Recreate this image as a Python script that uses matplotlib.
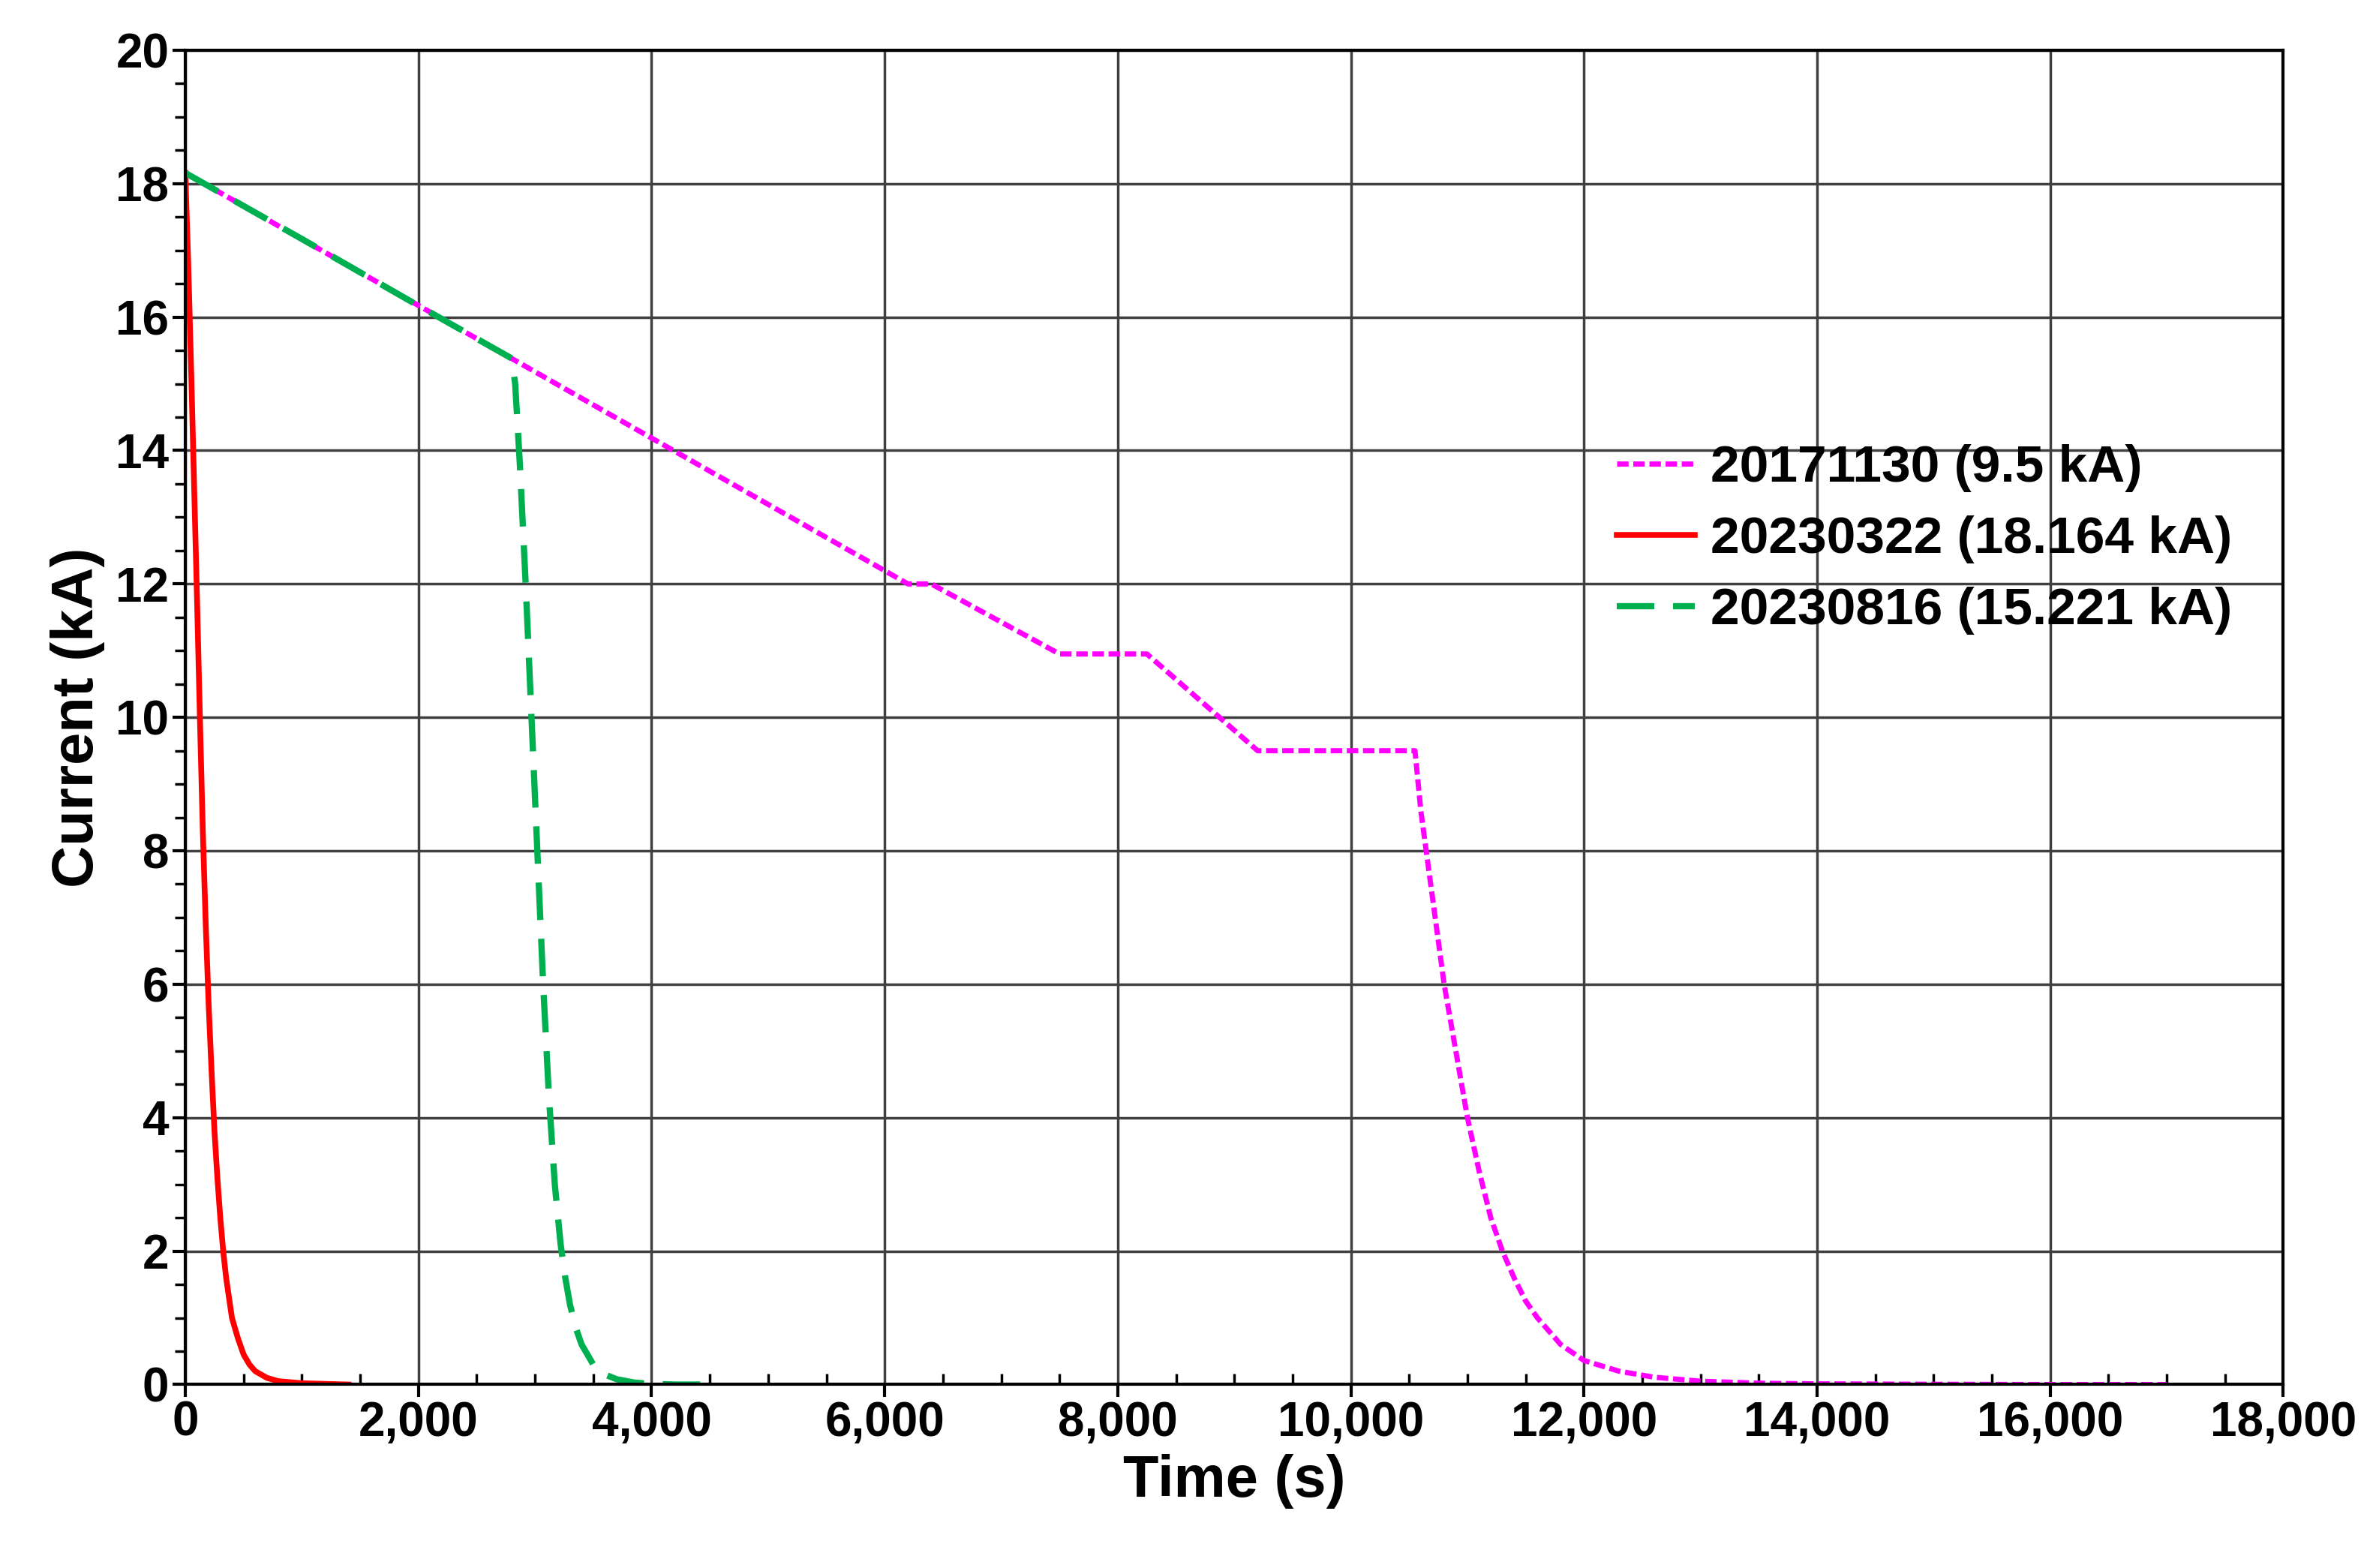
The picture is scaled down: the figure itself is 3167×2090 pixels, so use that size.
import matplotlib
matplotlib.use("Agg")
import matplotlib.pyplot as plt
from matplotlib.ticker import MultipleLocator, FuncFormatter

plt.rcParams['font.family'] = ['Liberation Sans', 'DejaVu Sans']
plt.rcParams['font.weight'] = 'bold'

t_2017 = [0, 3000, 6200, 6400, 7500, 8250, 9200, 10550, 10600, 10700, 10800, 10900, 11000, 11100, 11200, 11300, 11400, 11500, 11600, 11800, 12000, 12300, 12600, 13000, 13500, 14000, 15000, 16000, 17000]
i_2017 = [18.16, 15.18, 12.0, 12.0, 10.95, 10.95, 9.5, 9.5, 8.6, 7.3, 6.0, 5.0, 4.0, 3.2, 2.5, 2.0, 1.6, 1.25, 1.0, 0.6, 0.36, 0.2, 0.11, 0.05, 0.02, 0.01, 0.004, 0.0, 0.0]
t_2023a = [0, 25, 50, 75, 100, 125, 150, 175, 200, 225, 250, 275, 300, 325, 350, 375, 400, 450, 500, 550, 600, 700, 800, 1000, 1200, 1400]
i_2023a = [18.16, 16.8, 15.2, 13.5, 11.8, 10.0, 8.3, 6.9, 5.7, 4.7, 3.8, 3.1, 2.5, 2.0, 1.6, 1.3, 1.0, 0.7, 0.45, 0.3, 0.2, 0.1, 0.05, 0.02, 0.01, 0.0]
t_2023b = [0, 1000, 2000, 2800, 2830, 2870, 2920, 2970, 3020, 3070, 3120, 3170, 3220, 3260, 3300, 3350, 3400, 3500, 3600, 3700, 3850, 4000, 4200, 4500]
i_2023b = [18.16, 17.17, 16.17, 15.38, 15.0, 13.8, 12.0, 10.0, 8.0, 6.0, 4.3, 3.0, 2.1, 1.6, 1.2, 0.85, 0.6, 0.3, 0.15, 0.08, 0.03, 0.01, 0.0, 0.0]
labels = ['20171130 (9.5 kA)', '20230322 (18.164 kA)', '20230816 (15.221 kA)']

fig = plt.figure(figsize=(31.67, 20.9), dpi=100)
ax = fig.add_axes([0.078, 0.117, 0.883, 0.851])
ax.plot(t_2017, i_2017, color='#FF00FF', lw=5, ls=(0, (2.2, 0.9)), label=labels[0])
ax.plot(t_2023a, i_2023a, color='#FF0000', lw=5.5, label=labels[1])
ax.plot(t_2023b, i_2023b, color='#00B050', lw=6, ls=(0, (6, 3)), label=labels[2])

ax.set_xlim(0, 18000)
ax.set_ylim(0, 20)
ax.xaxis.set_major_locator(MultipleLocator(2000))
ax.yaxis.set_major_locator(MultipleLocator(2))
ax.xaxis.set_minor_locator(MultipleLocator(500))
ax.yaxis.set_minor_locator(MultipleLocator(0.5))
ax.xaxis.set_major_formatter(FuncFormatter(lambda v, p: f'{int(v):,}'))
ax.grid(True, which='major', color='#404040', lw=2.5)
ax.tick_params(axis='both', which='major', labelsize=46, length=12, width=3)
ax.tick_params(axis='both', which='minor', length=10, width=2.5)
ax.tick_params(axis='x', which='minor', direction='in')
for lbl in ax.get_xticklabels() + ax.get_yticklabels():
    lbl.set_fontweight('bold')
for s in ax.spines.values():
    s.set_linewidth(3)
ax.set_xlabel('Time (s)', fontsize=56, fontweight='bold', labelpad=8)
ax.set_ylabel('Current (kA)', fontsize=56, fontweight='bold', labelpad=10)
leg = ax.legend(loc='upper left', bbox_to_anchor=(0.66, 0.74), frameon=False,
                prop={'size': 50, 'weight': 'bold'}, handlelength=1.5,
                handletextpad=0.3, labelspacing=0.45)
fig.savefig('out.png', dpi=100, facecolor='white')
